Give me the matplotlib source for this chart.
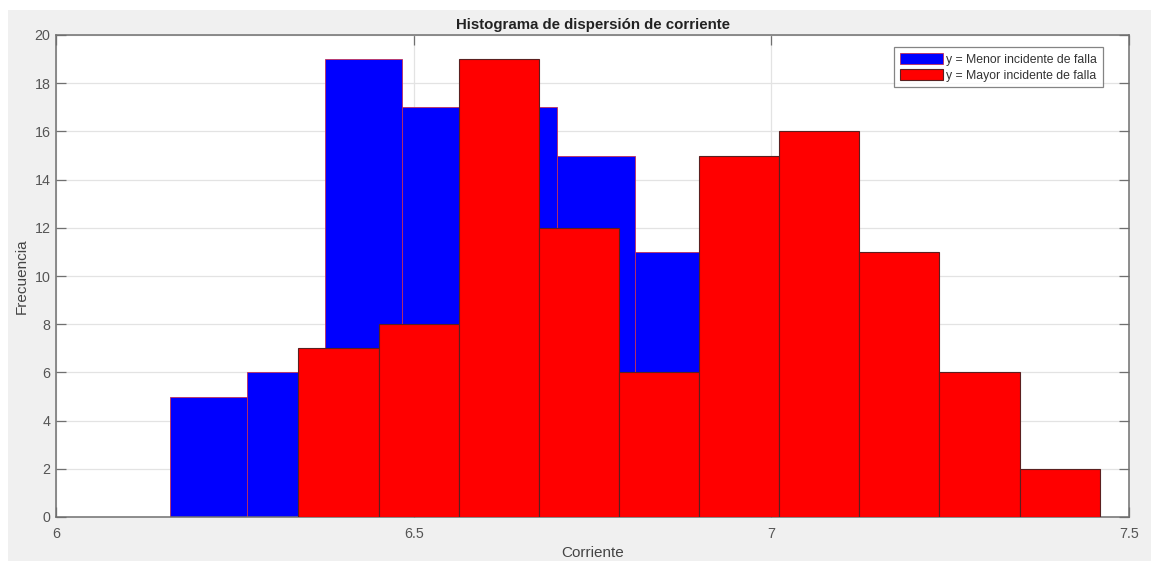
import numpy as np
import matplotlib.pyplot as plt
from matplotlib.patches import Rectangle

# bin counts
menor_counts = [5, 6, 19, 17, 17, 15, 11]
mayor_counts = [7, 8, 19, 12, 6, 15, 16, 11, 6, 2]

# bin edges (Corriente)
menor_start, menor_width = 6.159, 0.1083
mayor_start, mayor_width = 6.339, 0.1120
menor_edges = menor_start + menor_width * np.arange(len(menor_counts) + 1)
mayor_edges = mayor_start + mayor_width * np.arange(len(mayor_counts) + 1)

x_ticks = [6, 6.5, 7, 7.5]
x_ticklabels = ['6', '6.5', '7', '7.5']
y_ticks = list(range(0, 21, 2))

plt.rcParams['font.family'] = ['Liberation Sans', 'DejaVu Sans']

fig = plt.figure(figsize=(11.51, 5.61), dpi=100, facecolor='white')
# gray panel behind the axes, as in the matlab window
fig.patches.append(Rectangle((8 / 1151, 0), 1 - 8 / 1151, 1 - 10 / 561,
                             transform=fig.transFigure, facecolor='#f0f0f0',
                             edgecolor='none', zorder=-1))

ax = fig.add_axes([56 / 1151, 1 - 517 / 561, (1129 - 56) / 1151, (517 - 35) / 561])
ax.set_facecolor('white')

ax.bar(menor_edges[:-1], menor_counts, width=np.diff(menor_edges), align='edge',
       color='#0000ff', edgecolor='#c0305a', linewidth=0.6,
       label='y = Menor incidente de falla', zorder=2)
ax.bar(mayor_edges[:-1], mayor_counts, width=np.diff(mayor_edges), align='edge',
       color='#ff0000', edgecolor='#5a2020', linewidth=0.8,
       label='y = Mayor incidente de falla', zorder=3)

ax.set_xlim(6, 7.5)
ax.set_ylim(0, 20)
ax.set_xticks(x_ticks)
ax.set_xticklabels(x_ticklabels)
ax.set_yticks(y_ticks)
ax.grid(True, color='#e3e3e3', linewidth=0.9, zorder=0)
ax.set_axisbelow(True)

for s in ax.spines.values():
    s.set_color('#707070')
    s.set_linewidth(1.1)
ax.tick_params(direction='in', length=7.5, width=0.9, color='#707070',
               labelcolor='#555555', labelsize=10.3, top=True, right=True, pad=4)
ax.tick_params(axis='x', pad=7)

ax.set_title('Histograma de dispersión de corriente', fontsize=10.8,
             fontweight='bold', color='#222222', pad=4)
ax.set_xlabel('Corriente', fontsize=11, color='#444444', labelpad=4)
ax.set_ylabel('Frecuencia', fontsize=11, color='#444444', labelpad=4)

leg = ax.legend(loc='upper right', bbox_to_anchor=(0.9755, 0.975), fontsize=8.8,
                frameon=True, fancybox=False, edgecolor='#666666',
                handlelength=3.5, handleheight=1.1, handletextpad=0.3,
                borderpad=0.45, labelspacing=0.25, borderaxespad=0)
leg.get_frame().set_linewidth(0.9)
for t in leg.get_texts():
    t.set_color('#333333')

fig.savefig('out.png', dpi=100, facecolor=fig.get_facecolor())
